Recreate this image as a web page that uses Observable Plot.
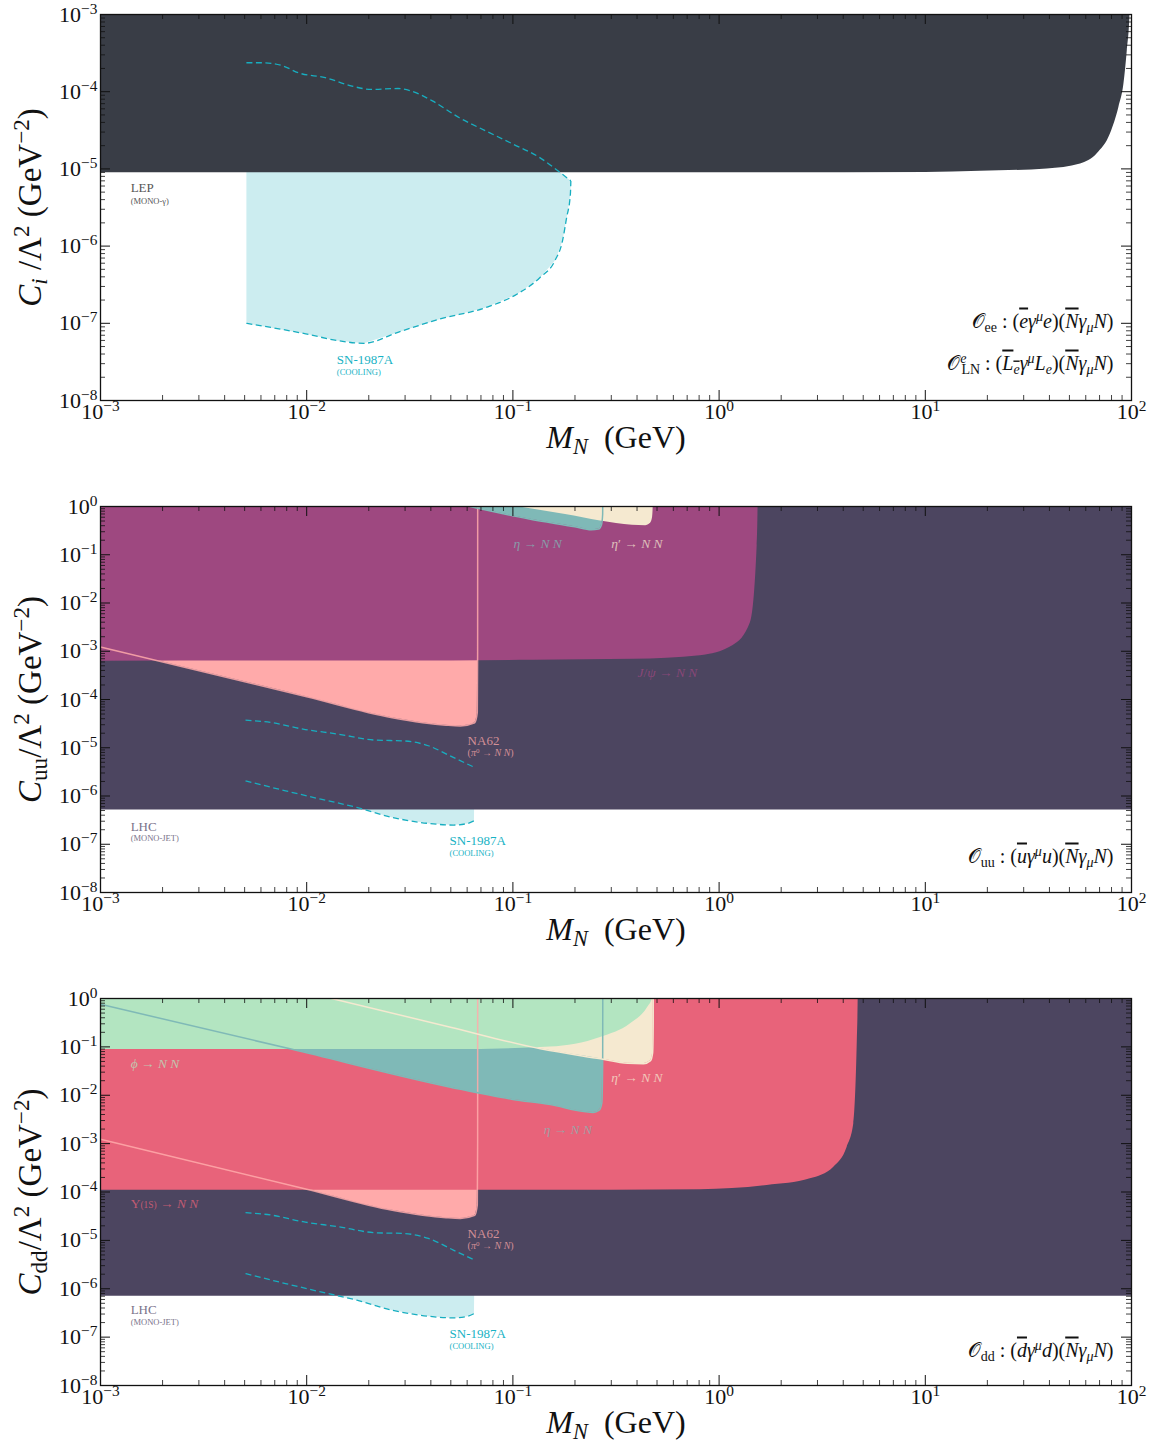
<!DOCTYPE html>
<html><head><meta charset="utf-8">
<script src="https://cdn.jsdelivr.net/npm/d3@7"></script>
<script src="https://cdn.jsdelivr.net/npm/@observablehq/plot@0.6"></script>
<style>body{margin:0;background:#fff} svg{display:block}</style>
</head><body><div id="c"></div>
<script>
// ---------- axes ----------
const xDomain = [1e-3, 1e2];
const yDomainEE = [1e-8, 1e-3];
const yDomainQQ = [1e-8, 1e0];
const xTicks = [1e-3, 1e-2, 1e-1, 1e0, 1e1, 1e2];
const yTicksEE = [1e-8, 1e-7, 1e-6, 1e-5, 1e-4, 1e-3];
const yTicksQQ = [1e-8, 1e-7, 1e-6, 1e-5, 1e-4, 1e-3, 1e-2, 1e-1, 1e0];
const minorMult = [2, 3, 4, 5, 6, 7, 8, 9];

// ---------- panel 1 : O_ee ----------
const lepM = [1e-4, 5e-4, 1, 10, 18.5, 39, 56.6, 68.2, 79.1, 86.9, 91.9, 95.4, 98.3, 98.6];
const lepC = [8.9e-6, 8.9e-6, 8.9e-6, 9.0e-6, 9.3e-6, 1.0e-5, 1.16e-5, 1.57e-5, 2.85e-5, 6.3e-5, 1.26e-4, 3.4e-4, 1e-3, 1e-2];
const snUpperM_ee = [5.1e-3, 6.2e-3, 7.7e-3, 9.1e-3, 0.0123, 0.0166, 0.0206, 0.0277, 0.0322, 0.0407, 0.055, 0.074, 0.1, 0.135, 0.174, 0.191];
const snUpperC_ee = [2.37e-4, 2.37e-4, 2.15e-4, 1.76e-4, 1.52e-4, 1.18e-4, 1.07e-4, 1.1e-4, 1.02e-4, 7.6e-5, 4.6e-5, 3.1e-5, 2.1e-5, 1.4e-5, 8.5e-6, 7e-6];
const snLowerM_ee = [5.1e-3, 9.9e-3, 0.014, 0.0189, 0.0277, 0.0444, 0.074, 0.105, 0.135, 0.16, 0.174, 0.182, 0.19, 0.191];
const snLowerC_ee = [1.0e-7, 7.3e-8, 6e-8, 5.5e-8, 7.65e-8, 1.14e-7, 1.6e-7, 2.4e-7, 3.9e-7, 6.5e-7, 1.17e-6, 2.3e-6, 4.7e-6, 7e-6];

// ---------- panels 2 & 3 : O_uu, O_dd ----------
const lhcM = [1e-4, 1e3];
const lhcUU = [5.1e-7, 5.1e-7];
const lhcDD = [7.0e-7, 7.0e-7];
const snUpperM_qq = [5.05e-3, 6.7e-3, 9.6e-3, 0.0143, 0.0214, 0.0294, 0.0389, 0.0514, 0.0653];
const snUpperC_qq = [3.73e-5, 3.34e-5, 2.43e-5, 1.91e-5, 1.44e-5, 1.39e-5, 1.1e-5, 6.3e-6, 3.9e-6];
const snLowerM_qq = [5.05e-3, 7.9e-3, 0.0117, 0.0175, 0.026, 0.039, 0.0514, 0.0603, 0.0647];
const snLowerC_qq = [2.06e-6, 1.28e-6, 8.6e-7, 5.8e-7, 3.6e-7, 2.7e-7, 2.5e-7, 2.7e-7, 3.05e-7];
const na62M = [1e-3, 0.01, 0.026, 0.0474, 0.0556, 0.0653, 0.0672, 0.06745, 0.0675];
const na62C = [1.23e-3, 1.14e-4, 4.2e-5, 2.94e-5, 2.84e-5, 3.3e-5, 5.4e-5, 1e-3, 5];
const jpsiM = [1e-4, 0.05, 0.126, 0.385, 0.81, 1.17, 1.42, 1.53, 1.545, 1.549];
const jpsiC = [6.2e-4, 6.3e-4, 6.5e-4, 6.8e-4, 8.1e-4, 1.32e-3, 3.95e-3, 0.155, 1, 5];
const etaUuM = [0.062, 0.12, 0.2, 0.24, 0.26, 0.269, 0.2725, 0.273];
const etaUuC = [1, 0.55, 0.38, 0.33, 0.34, 0.42, 0.7, 5];
const etapUuM = [0.104, 0.18, 0.266, 0.38, 0.44, 0.465, 0.476, 0.479, 0.4795];
const etapUuC = [1, 0.68, 0.5, 0.41, 0.40, 0.45, 0.6, 1, 5];
const upsM = [1e-4, 0.3, 0.81, 1.71, 2.77, 3.60, 4.18, 4.50, 4.68, 4.725, 4.73];
const upsC = [1.08e-4, 1.09e-4, 1.11e-4, 1.36e-4, 1.87e-4, 3.26e-4, 8.4e-4, 2.57e-3, 0.135, 1, 5];
const phiM = [1e-4, 0.05, 0.152, 0.266, 0.372, 0.45, 0.475, 0.49];
const phiC = [0.088, 0.088, 0.099, 0.156, 0.30, 0.65, 1, 5];
const etaDdM = [1e-3, 8.5e-3, 0.0498, 0.1, 0.152, 0.221, 0.245, 0.262, 0.27, 0.2725, 0.273];
const etaDdC = [0.76, 0.089, 0.0147, 8.2e-3, 6.4e-3, 4.6e-3, 4.4e-3, 4.9e-3, 7e-3, 0.05, 5];
const etapDdM = [0.0132, 0.0498, 0.136, 0.266, 0.36, 0.43, 0.465, 0.476, 0.479, 0.4795];
const etapDdC = [1, 0.255, 0.091, 0.0567, 0.046, 0.045, 0.052, 0.075, 0.3, 5];

// ---------- texts ----------
const opEE = "𝒪\\sub{ee} : (\\ol{\\i{e}}\\i{γ}\\sup{\\i{μ}}\\i{e})(\\ol{\\i{N}}\\i{γ}\\sub{\\i{μ}}\\i{N})";
const opLN = "𝒪\\sup{\\i{e}}\\subb{LN} : (\\ol{\\i{L}\\sub{\\i{e}}}\\i{γ}\\sup{\\i{μ}}\\i{L}\\sub{\\i{e}})(\\ol{\\i{N}}\\i{γ}\\sub{\\i{μ}}\\i{N})";
const opUU = "𝒪\\sub{uu} : (\\ol{\\i{u}}\\i{γ}\\sup{\\i{μ}}\\i{u})(\\ol{\\i{N}}\\i{γ}\\sub{\\i{μ}}\\i{N})";
const opDD = "𝒪\\sub{dd} : (\\ol{\\i{d}}\\i{γ}\\sup{\\i{μ}}\\i{d})(\\ol{\\i{N}}\\i{γ}\\sub{\\i{μ}}\\i{N})";
const xTitle = "\\i{M}\\sub{\\i{N}}  (GeV)";
const yTitleEE = "\\i{C}\\sub{\\i{i}} /Λ\\sup{2} (GeV\\sup{−2})";
const yTitleUU = "\\i{C}\\sub{uu}/Λ\\sup{2} (GeV\\sup{−2})";
const yTitleDD = "\\i{C}\\sub{dd}/Λ\\sup{2} (GeV\\sup{−2})";

// label anchors (data coordinates)
const labelsEE = {
  lep: [{x: 1.4e-3, y: 5.74e-6, t: "LEP", s: 13}, {x: 1.4e-3, y: 3.84e-6, t: "(MONO-γ)", s: 8.5}],
  sn: [{x: 0.014, y: 3.4e-8, t: "SN-1987A", s: 13}, {x: 0.014, y: 2.3e-8, t: "(COOLING)", s: 8.5}]
};
const labelsUU = {
  eta: [{x: 0.1007, y: 0.171, t: "\\i{η} → \\i{N N}", s: 13.5}],
  etap: [{x: 0.30, y: 0.171, t: "\\i{η}′ → \\i{N N}", s: 13.5}],
  jpsi: [{x: 0.402, y: 3.63e-4, t: "\\i{J}/\\i{ψ} → \\i{N N}", s: 13.5}],
  na62: [{x: 0.0603, y: 1.41e-5, t: "NA62", s: 13}, {x: 0.0603, y: 7.97e-6, t: "(\\i{π}\\sup{0} → \\i{N N})", s: 10}],
  lhc: [{x: 1.4e-3, y: 2.33e-7, t: "LHC", s: 13}, {x: 1.4e-3, y: 1.32e-7, t: "(MONO-JET)", s: 8.5}],
  sn: [{x: 0.0493, y: 1.2e-7, t: "SN-1987A", s: 13}, {x: 0.0493, y: 6.45e-8, t: "(COOLING)", s: 8.5}]
};
const labelsDD = {
  phi: [{x: 1.4e-3, y: 0.0453, t: "\\i{ϕ} → \\i{N N}", s: 13.5}],
  etap: [{x: 0.30, y: 0.0233, t: "\\i{η}′ → \\i{N N}", s: 13.5}],
  eta: [{x: 0.141, y: 1.96e-3, t: "\\i{η} → \\i{N N}", s: 13.5}],
  ups: [{x: 1.4e-3, y: 5.78e-5, t: "Υ\\sm{(1S)} → \\i{N N}", s: 13.5}],
  na62: [{x: 0.0603, y: 1.39e-5, t: "NA62", s: 13}, {x: 0.0603, y: 7.8e-6, t: "(\\i{π}\\sup{0} → \\i{N N})", s: 10}],
  lhc: [{x: 1.4e-3, y: 3.7e-7, t: "LHC", s: 13}, {x: 1.4e-3, y: 2.0e-7, t: "(MONO-JET)", s: 8.5}],
  sn: [{x: 0.0493, y: 1.19e-7, t: "SN-1987A", s: 13}, {x: 0.0493, y: 6.4e-8, t: "(COOLING)", s: 8.5}]
};

// ---------- styles ----------
const COL = {
  lep: "#393d46", lhc: "#4c4560", jpsi: "#9e4880", na62: "#ffaaaa", eta: "#7fb9b7",
  etap: "#f5e9d0", phi: "#b3e5c1", ups: "#e8637a", snFill: "#ccedf0", snLine: "#17aec0",
  lepText: "#555555", lhcText: "#79738a", snText: "#17b2c4", ink: "#111111"
};
const FONT = "'Liberation Serif', 'DejaVu Serif', serif";

// ---------- rich text ----------
const RICH = new Map();
function strip(s) { return s.replace(/\\\w+\{/g, "").replace(/[{}]/g, ""); }
function reg(markup) { const p = strip(markup); RICH.set(p, markup); return p; }
function wrap(cmd, inner) {
  switch (cmd) {
    case "i": return `<tspan font-style="italic">${inner}</tspan>`;
    case "sub": return `<tspan font-size="70%" baseline-shift="-0.28em">${inner}</tspan>`;
    case "subb": return `<tspan font-size="70%" dx="-5" baseline-shift="-0.28em">${inner}</tspan>`;
    case "sup": return `<tspan font-size="70%" baseline-shift="0.5em">${inner}</tspan>`;
    case "sm": return `<tspan font-size="70%">${inner}</tspan>`;
    case "ol": return `<tspan style="text-decoration:overline">${inner}</tspan>`;
  }
  return inner;
}
function toSvg(s) {
  let out = "", i = 0;
  while (i < s.length) {
    if (s[i] === "\\") {
      const m = /^\\(\w+)\{/.exec(s.slice(i));
      let k = i + m[0].length, depth = 1; const start = k;
      while (depth > 0) { if (s[k] === "{") depth++; else if (s[k] === "}") depth--; k++; }
      out += wrap(m[1], toSvg(s.slice(start, k - 1)));
      i = k;
    } else { const ch = s[i]; out += ch === "<" ? "&lt;" : ch === "&" ? "&amp;" : ch; i++; }
  }
  return out;
}
const fmt = d => { const e = Math.round(Math.log10(d)); return reg(`10\\sup{${e < 0 ? "−" + (-e) : e}}`); };

// ---------- helpers ----------
const pts = (xs, ys) => xs.map((x, i) => ({x, y: ys[i]}));
const region = (xs, ys, fill, top) =>
  Plot.areaY(pts(xs, ys), {x: "x", y1: "y", y2: () => top, fill, curve: "monotone-x", clip: true});
const outline = (xs, ys, stroke, opacity = 1) =>
  Plot.line(pts(xs, ys), {x: "x", y: "y", stroke, strokeOpacity: opacity, strokeWidth: 1.5, curve: "monotone-x", clip: true});
const snFill = (uM, uC, lM, lC) =>
  Plot.line([...pts(uM, uC), ...pts(lM, lC).reverse()], {x: "x", y: "y", fill: COL.snFill, stroke: "none", clip: true});
const dashed = (xs, ys) =>
  Plot.line(pts(xs, ys), {x: "x", y: "y", stroke: COL.snLine, strokeWidth: 1.3, strokeDasharray: "6,3.5", strokeLinecap: "butt", curve: "monotone-x", clip: true});
const label = (list, fill, opacity = 1) =>
  Plot.text(list, {x: "x", y: "y", text: d => reg(d.t), fontSize: d => d.s, textAnchor: "start", fill, fillOpacity: opacity});
const minorOf = ticks => ticks.slice(0, -1).flatMap(d => minorMult.map(m => m * d));

function axes(yTicks, innerH, innerW, yTitle, op) {
  const xMinor = minorOf(xTicks), yMinor = minorOf(yTicks);
  const T = 10, t = 5;
  const tk = {stroke: COL.ink, strokeWidth: 1};
  const tm = {stroke: COL.ink, strokeWidth: 0.8};
  return [
    Plot.tickX(xTicks, {x: d => d, insetTop: innerH - T, ...tk}),
    Plot.tickX(xTicks, {x: d => d, insetBottom: innerH - T, ...tk}),
    Plot.tickX(xMinor, {x: d => d, insetTop: innerH - t, ...tm}),
    Plot.tickX(xMinor, {x: d => d, insetBottom: innerH - t, ...tm}),
    Plot.tickY(yTicks, {y: d => d, insetRight: innerW - T, ...tk}),
    Plot.tickY(yTicks, {y: d => d, insetLeft: innerW - T, ...tk}),
    Plot.tickY(yMinor, {y: d => d, insetRight: innerW - t, ...tm}),
    Plot.tickY(yMinor, {y: d => d, insetLeft: innerW - t, ...tm}),
    Plot.frame({stroke: COL.ink, strokeWidth: 1.3}),
    Plot.axisX(xTicks, {anchor: "bottom", tickSize: 0, tickPadding: 3, fontSize: 22, tickFormat: fmt, label: null, fill: COL.ink}),
    Plot.axisY(yTicks, {anchor: "left", tickSize: 0, tickPadding: 3, fontSize: 22, tickFormat: fmt, label: null, fill: COL.ink}),
    Plot.text([reg(xTitle)], {text: d => d, frameAnchor: "bottom", dy: 47, fontSize: 32, textAnchor: "middle", fill: COL.ink}),
    Plot.text([reg(yTitle)], {text: d => d, frameAnchor: "left", dx: -70, rotate: -90, fontSize: 33, textAnchor: "middle", fill: COL.ink}),
    ...op.map(o => Plot.text([reg(o.t)], {text: d => d, frameAnchor: "bottom-right", dx: -18, dy: -o.up, fontSize: 20, textAnchor: "end", fill: COL.ink}))
  ];
}

function panel(yDomain, marginTop, innerH, marginBottom, marks, yTicks, yTitle, op) {
  const marginLeft = 100, marginRight = 22, width = 1153;
  const height = marginTop + innerH + marginBottom, innerW = width - marginLeft - marginRight;
  return Plot.plot({
    width, height, marginTop, marginBottom, marginLeft, marginRight,
    x: {type: "log", domain: xDomain, axis: null},
    y: {type: "log", domain: yDomain, axis: null},
    style: {fontFamily: FONT, background: "white", color: COL.ink},
    marks: [...marks, ...axes(yTicks, innerH, innerW, yTitle, op)]
  });
}

// ---------- panel 1 ----------
const p1 = panel(yDomainEE, 14, 386, 84, [
  snFill(snUpperM_ee, snUpperC_ee, snLowerM_ee, snLowerC_ee),
  region(lepM, lepC, COL.lep, 1e-2),
  dashed(snUpperM_ee, snUpperC_ee),
  dashed(snLowerM_ee, snLowerC_ee),
  label(labelsEE.lep, COL.lepText),
  label(labelsEE.sn, COL.snText)
], yTicksEE, yTitleEE, [{t: opEE, up: 73}, {t: opLN, up: 31}]);

// ---------- panel 2 ----------
const p2 = panel(yDomainQQ, 22, 386, 84, [
  snFill(snUpperM_qq, snUpperC_qq, snLowerM_qq, snLowerC_qq),
  region(lhcM, lhcUU, COL.lhc, 10),
  region(na62M, na62C, COL.na62, 10),
  region(jpsiM, jpsiC, COL.jpsi, 10),
  region(etaUuM, etaUuC, COL.eta, 10),
  region(etapUuM, etapUuC, COL.etap, 10),
  outline(na62M, na62C, COL.na62, 0.85),
  outline(etaUuM, etaUuC, COL.eta),
  dashed(snUpperM_qq, snUpperC_qq),
  dashed(snLowerM_qq, snLowerC_qq),
  label(labelsUU.eta, COL.eta, 0.75),
  label(labelsUU.etap, COL.etap, 0.75),
  label(labelsUU.jpsi, COL.jpsi, 0.75),
  label(labelsUU.na62, COL.na62, 0.75),
  label(labelsUU.lhc, COL.lhcText),
  label(labelsUU.sn, COL.snText)
], yTicksQQ, yTitleUU, [{t: opUU, up: 30}]);

// ---------- panel 3 ----------
const p3 = panel(yDomainQQ, 22, 387, 67, [
  snFill(snUpperM_qq, snUpperC_qq, snLowerM_qq, snLowerC_qq),
  region(lhcM, lhcDD, COL.lhc, 10),
  region(na62M, na62C, COL.na62, 10),
  region(upsM, upsC, COL.ups, 10),
  region(etaDdM, etaDdC, COL.eta, 10),
  region(etapDdM, etapDdC, COL.etap, 10),
  region(phiM, phiC, COL.phi, 10),
  outline(na62M, na62C, COL.na62, 0.85),
  outline(etaDdM, etaDdC, COL.eta),
  outline(etapDdM, etapDdC, COL.etap),
  dashed(snUpperM_qq, snUpperC_qq),
  dashed(snLowerM_qq, snLowerC_qq),
  label(labelsDD.phi, COL.phi, 0.75),
  label(labelsDD.etap, COL.etap, 0.75),
  label(labelsDD.eta, COL.eta, 0.7),
  label(labelsDD.ups, COL.ups, 0.75),
  label(labelsDD.na62, COL.na62, 0.75),
  label(labelsDD.lhc, COL.lhcText),
  label(labelsDD.sn, COL.snText)
], yTicksQQ, yTitleDD, [{t: opDD, up: 29}]);

const host = document.getElementById("c");
for (const p of [p1, p2, p3]) {
  p.querySelectorAll("text").forEach(el => {
    if (el.children.length === 0 && RICH.has(el.textContent)) el.innerHTML = toSvg(RICH.get(el.textContent));
  });
  host.appendChild(p);
}
</script></body></html>
